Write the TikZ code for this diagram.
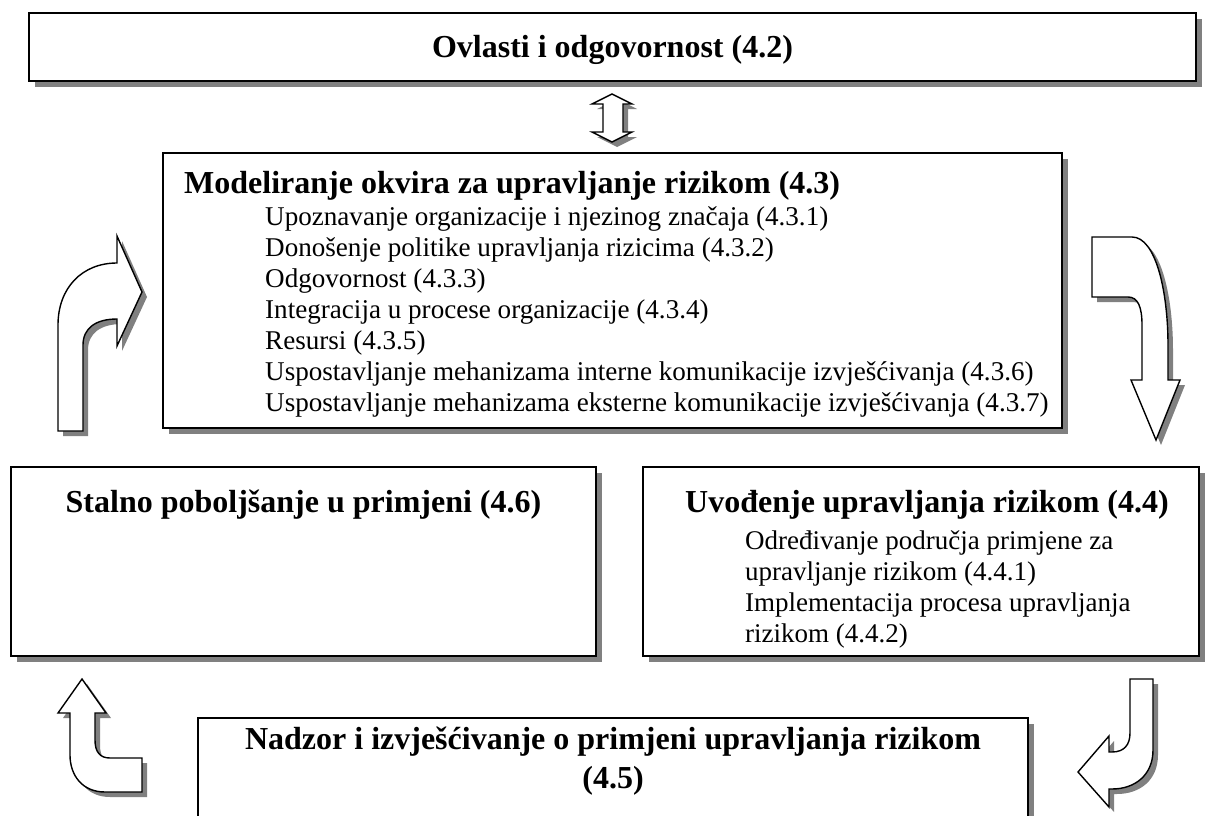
\documentclass[tikz,border=0pt]{standalone}
\usepackage{fontspec}
\setmainfont{Liberation Serif}
\usetikzlibrary{shadows}
\begin{document}
\begin{tikzpicture}[x=1pt,y=-1pt,
  shad/.style={drop shadow={shadow xshift=6pt, shadow yshift=-6pt, fill=black!50, opacity=1}},
  ashad/.style={drop shadow={shadow xshift=5pt, shadow yshift=-5pt, fill=black!50, opacity=1}},
  boxs/.style={draw=black, line width=1.5pt, fill=white, shad, rectangle, inner sep=0pt},
  arr/.style={draw=black, line width=1.4pt, fill=white, line join=miter, ashad},
  ttl/.style={font=\fontsize{32}{37}\selectfont\bfseries, anchor=base, inner sep=0pt},
  itm/.style={font=\fontsize{27}{31}\selectfont, anchor=base west, inner sep=0pt},
  mitm/.style={font=\fontsize{27.1}{31}\selectfont, anchor=base west, inner sep=0pt}]
\useasboundingbox (0,0) rectangle (1208,816);
\clip (0,0) rectangle (1208,816);

% boxes
\node[boxs, line width=2.5pt, minimum width=1167pt, minimum height=68pt] (top) at (612.5,47) {};
\node[boxs, minimum width=899pt, minimum height=275pt] (mid) at (612.5,290.5) {};
\node[boxs, minimum width=585pt, minimum height=189pt] (left) at (303.5,561.5) {};
\node[boxs, minimum width=556pt, minimum height=189pt] (right) at (921,561.5) {};
\node[boxs, minimum width=830pt, minimum height=122pt] (bot) at (613,779) {};

% texts
\node[ttl] (ttop) at (612.5,58) {Ovlasti i odgovornost (4.2)};
\node[ttl, anchor=base west] (tmid) at (184,193) {Modeliranje okvira za upravljanje rizikom (4.3)};
\node[mitm] (m1) at (265,225) {Upoznavanje organizacije i njezinog značaja (4.3.1)};
\node[mitm] (m2) at (265,256) {Donošenje politike upravljanja rizicima (4.3.2)};
\node[mitm] (m3) at (265,287) {Odgovornost (4.3.3)};
\node[mitm] (m4) at (265,318) {Integracija u procese organizacije (4.3.4)};
\node[mitm] (m5) at (265,349) {Resursi (4.3.5)};
\node[mitm] (m6) at (265,380) {Uspostavljanje mehanizama interne komunikacije izvješćivanja (4.3.6)};
\node[mitm] (m7) at (265,411) {Uspostavljanje mehanizama eksterne komunikacije izvješćivanja (4.3.7)};

\node[ttl] (tleft) at (303.5,512) {Stalno poboljšanje u primjeni (4.6)};
\node[ttl, anchor=base west] (tright) at (685,512) {Uvođenje upravljanja rizikom (4.4)};
\node[itm] (r1) at (745,549) {Određivanje područja primjene za};
\node[itm] (r2) at (745,580) {upravljanje rizikom (4.4.1)};
\node[itm] (r3) at (745,611) {Implementacija procesa upravljanja};
\node[itm] (r4) at (745,642) {rizikom (4.4.2)};

\node[ttl] (tbot1) at (613,749) {Nadzor i izvješćivanje o primjeni upravljanja rizikom};
\node[ttl] (tbot2) at (613,788) {(4.5)};

% double arrow
\path[arr] (612,94) -- (632,104) -- (623,104) -- (623,132) -- (632,132) -- (612,142)
  -- (592,132) -- (603,132) -- (603,104) -- (592,104) -- cycle;

% left curved arrow (up, then right)
\path[arr] (58,431) -- (58,325) .. controls (58,288) and (82,263) .. (117,263)
  -- (117,236) -- (142,292) -- (117,346) -- (117,319)
  .. controls (96,319) and (83,328) .. (83,345) -- (83,431) -- cycle;

% right curved arrow (right, then down)
\path[arr] (1092,237) -- (1132,237) .. controls (1156,237) and (1168,292) .. (1168,345)
  -- (1168,380) -- (1180,380) -- (1156,440) -- (1131,380) -- (1142,380)
  -- (1142,325) .. controls (1142,307) and (1138,297) .. (1128,297) -- (1092,297) -- cycle;

% bottom-left arrow (left, then up)
\path[arr] (82,679) -- (106,713) -- (95,713) -- (95,740)
  .. controls (95,752) and (100,758) .. (110,758) -- (142,758) -- (142,792) -- (105,792)
  .. controls (82,792) and (70,775) .. (70,755) -- (70,713) -- (58,713) -- cycle;

% bottom-right arrow (down, then left)
\path[arr] (1130,679) -- (1153,679) -- (1153,750)
  .. controls (1153,775) and (1135,789) .. (1112,789) -- (1109,789) -- (1109,807)
  -- (1078,772) -- (1109,736) -- (1109,752) -- (1112,752)
  .. controls (1124,752) and (1130,745) .. (1130,733) -- cycle;
\end{tikzpicture}
\end{document}
